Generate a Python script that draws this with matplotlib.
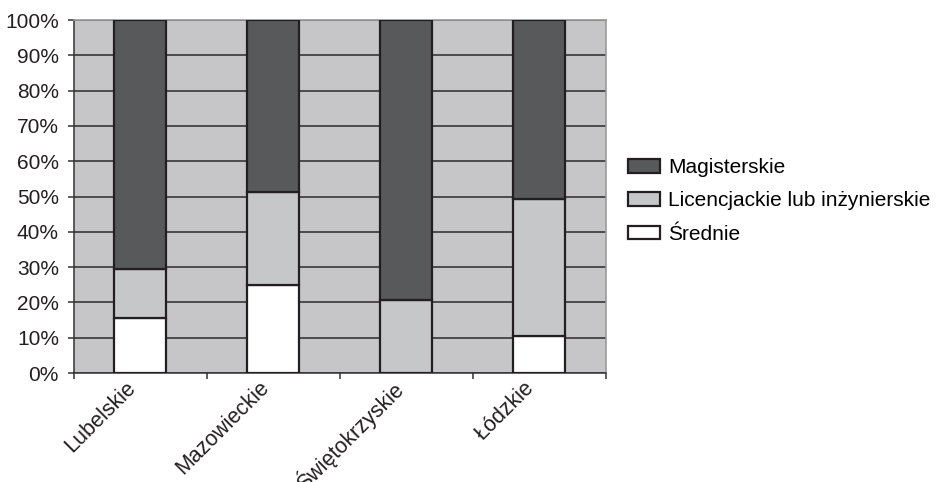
import matplotlib.pyplot as plt
import matplotlib.transforms as mtrans
import numpy as np

regions = ["Lubelskie", "Mazowieckie", "Świętokrzyskie", "Łódzkie"]
srednie = [15.6, 25.0, 0.0, 10.5]
licencjackie = [13.9, 26.3, 20.7, 38.8]
magisterskie = [70.5, 48.7, 79.3, 50.7]

plt.rcParams['font.family'] = ['Liberation Sans', 'DejaVu Sans']

bg = "#c6c6c8"
dark = "#58595b"
light = "#c6c7c9"
edge = "#231f20"
fs = 15

fig = plt.figure(figsize=(9.36, 4.82), dpi=100)
ax = fig.add_axes([0.079, 0.226, 0.568, 0.7325])
ax.set_facecolor(bg)

x = np.arange(len(regions))
w = 0.39
s = np.array(srednie)
l = np.array(licencjackie)
m = np.array(magisterskie)
ax.bar(x, s, w, color="white", edgecolor=edge, linewidth=1.6, zorder=3, label="Średnie")
ax.bar(x, l, w, bottom=s, color=light, edgecolor=edge, linewidth=1.6, zorder=3,
       label="Licencjackie lub inżynierskie")
ax.bar(x, m, w, bottom=s + l, color=dark, edgecolor=edge, linewidth=1.6, zorder=3, label="Magisterskie")

ax.set_xlim(-0.5, len(regions) - 0.5)
ax.set_ylim(0, 100)
ax.set_yticks(np.arange(0, 101, 10))
ax.set_yticklabels([f"{v}%" for v in range(0, 101, 10)], fontsize=fs, color="#231f20")
ax.yaxis.grid(True, color="#2a2a2a", linewidth=1.1, zorder=1)
ax.set_axisbelow(True)

ax.set_xticks(x)
ax.set_xticklabels(regions, rotation=45, ha="right", rotation_mode="anchor", fontsize=15.5, color="#231f20")
ax.set_xticks(np.arange(-0.5, len(regions)), minor=True)
ax.tick_params(axis="x", which="major", length=0, pad=3)
ax.tick_params(axis="x", which="minor", length=4.5, width=1.1, color="#333333", direction="out")
ax.tick_params(axis="y", length=4.3, width=1.1, color="#333333", direction="out", pad=6.5)

# shift rotated labels a bit left, like the original
shift = mtrans.ScaledTranslation(-0.15, 0, fig.dpi_scale_trans)
for lab in ax.get_xticklabels():
    lab.set_transform(lab.get_transform() + shift)

for side in ["top", "right"]:
    ax.spines[side].set_color("#9a9a9a")
    ax.spines[side].set_linewidth(1.2)
ax.spines["left"].set_color("#333333")
ax.spines["bottom"].set_color("#333333")
ax.spines["left"].set_linewidth(1.1)
ax.spines["bottom"].set_linewidth(1.1)

handles, labels = ax.get_legend_handles_labels()
ax.legend(handles[::-1], labels[::-1], loc="center left", bbox_to_anchor=(0.671, 0.583),
          bbox_transform=fig.transFigure, frameon=False, fontsize=fs,
          handlelength=1.54, handleheight=0.63, handletextpad=0.38, labelspacing=0.69,
          borderaxespad=0, borderpad=0)

fig.savefig("out.png", dpi=100)
